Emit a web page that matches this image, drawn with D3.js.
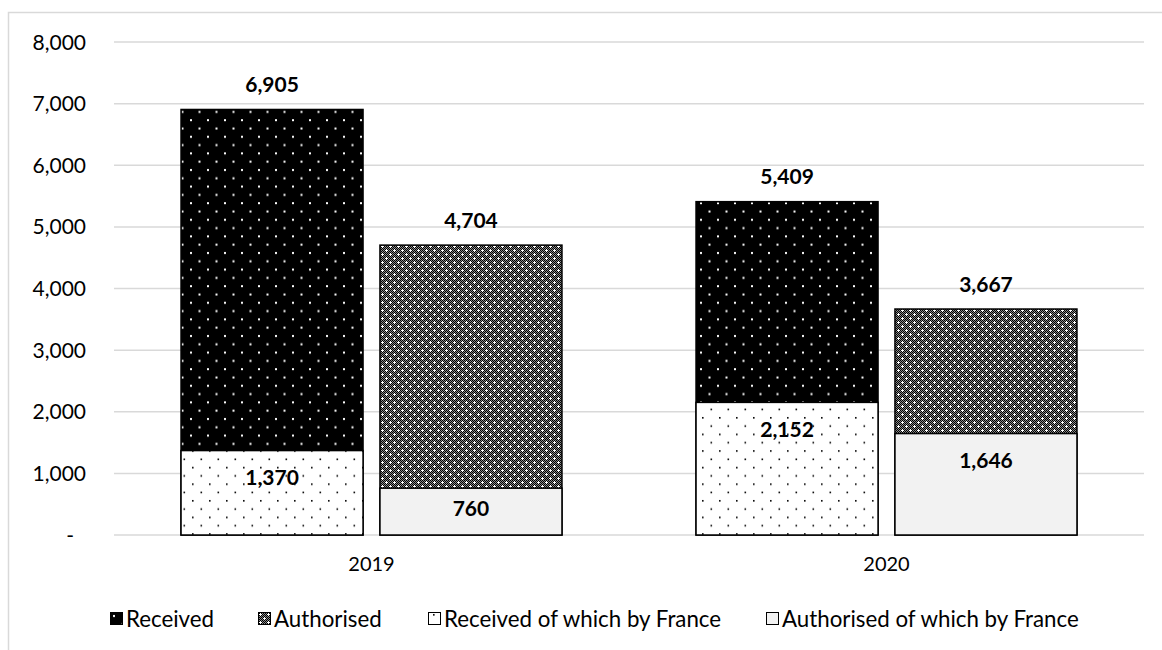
<!DOCTYPE html>
<html>
<head>
<meta charset="utf-8">
<script src="https://cdnjs.cloudflare.com/ajax/libs/d3/7.8.5/d3.min.js"></script>
<style>
  body { margin: 0; background: #fff; }
  text { font-family: Lato, "Open Sans", sans-serif; fill: #000; }
</style>
</head>
<body>
<script>
//chart data
var years = ["2019", "2020"];
var seriesKeys = ["Received", "Authorised"];
var received = [6905, 5409];
var authorised = [4704, 3667];
var receivedFrance = [1370, 2152];
var authorisedFrance = [760, 1646];
var yTicks = [0, 1000, 2000, 3000, 4000, 5000, 6000, 7000, 8000];
var legendLabels = ["Received", "Authorised", "Received of which by France", "Authorised of which by France"];

var width = 1162,
    height = 650;

var svg = d3.select("body")
    .append("svg")
    .attr("width", width)
    .attr("height", height);

var defs = svg.append("defs");

//black with white dots
var pReceived = defs.append("pattern")
    .attr("id", "pReceived")
    .attr("patternUnits", "userSpaceOnUse")
    .attr("width", 17).attr("height", 16.6);
pReceived.append("rect").attr("width", 17).attr("height", 16.6).attr("fill", "#000");
pReceived.append("rect").attr("x", 3).attr("y", 3).attr("width", 2).attr("height", 2).attr("fill", "#fff");
pReceived.append("rect").attr("x", 11.5).attr("y", 11.3).attr("width", 2).attr("height", 2).attr("fill", "#fff");

//white with black dots
var pRecFr = defs.append("pattern")
    .attr("id", "pRecFr")
    .attr("patternUnits", "userSpaceOnUse")
    .attr("width", 17).attr("height", 16.6);
pRecFr.append("rect").attr("width", 17).attr("height", 16.6).attr("fill", "#fff");
pRecFr.append("rect").attr("x", 5).attr("y", 2).attr("width", 1.6).attr("height", 1.6).attr("fill", "#000");
pRecFr.append("rect").attr("x", 13.5).attr("y", 10.3).attr("width", 1.6).attr("height", 1.6).attr("fill", "#000");

//dark checker with white crosses
var pAuth = defs.append("pattern")
    .attr("id", "pAuth")
    .attr("patternUnits", "userSpaceOnUse")
    .attr("width", 8).attr("height", 8);
pAuth.append("rect").attr("width", 8).attr("height", 8).attr("fill", "#8a8a8a");
var cells = [];
for (var i = 0; i < 8; i++) {
    for (var j = 0; j < 8; j++) {
        if ((i + j) % 2 == 0) cells.push([i, j]);
    };
};
pAuth.selectAll(".cell")
    .data(cells)
    .enter()
    .append("rect")
    .attr("x", function(d){ return d[0]; })
    .attr("y", function(d){ return d[1]; })
    .attr("width", 1).attr("height", 1)
    .attr("fill", "#000");
//white plus marks
[[2, 2], [6, 6]].forEach(function(c){
    pAuth.append("rect").attr("x", c[0] - 1).attr("y", c[1]).attr("width", 3).attr("height", 1).attr("fill", "#fff");
    pAuth.append("rect").attr("x", c[0]).attr("y", c[1] - 1).attr("width", 1).attr("height", 3).attr("fill", "#fff");
});

var fills = ["url(#pReceived)", "url(#pAuth)", "url(#pRecFr)", "#f2f2f2"];

//outer chart border
svg.append("rect")
    .attr("x", 8.5).attr("y", 12.5)
    .attr("width", 1170).attr("height", 660)
    .attr("fill", "none")
    .attr("stroke", "#d9d9d9")
    .attr("stroke-width", 1.5);

//scales
var x = d3.scaleBand()
    .domain(years)
    .range([114, 1144]);

var x1 = d3.scaleBand()
    .domain(seriesKeys)
    .range([0, x.bandwidth()])
    .paddingInner(0.085)
    .paddingOuter(0.337);

var y = d3.scaleLinear()
    .domain([0, 8000])
    .range([535, 42]);

var fmt = d3.format(",");

//gridlines
svg.selectAll(".grid")
    .data(yTicks)
    .enter()
    .append("line")
    .attr("class", "grid")
    .attr("x1", 114).attr("x2", 1144)
    .attr("y1", function(d){ return y(d); })
    .attr("y2", function(d){ return y(d); })
    .attr("stroke", "#d9d9d9")
    .attr("stroke-width", 1.5);

//y tick labels
svg.selectAll(".ytick")
    .data(yTicks)
    .enter()
    .append("text")
    .attr("class", "ytick")
    .attr("x", function(d){ return d == 0 ? 74 : 86; })
    .attr("y", function(d){ return y(d); })
    .attr("dy", "0.36em")
    .attr("text-anchor", "end")
    .style("font-size", "21px")
    .text(function(d){ return d == 0 ? "-" : fmt(d); });

//x labels
svg.selectAll(".xlabel")
    .data(years)
    .enter()
    .append("text")
    .attr("class", "xlabel")
    .attr("x", function(d){ return x(d) + x.bandwidth() / 2; })
    .attr("y", 564)
    .attr("dy", "0.36em")
    .attr("text-anchor", "middle")
    .style("font-size", "20px")
    .text(function(d){ return d; });

//build bar rows: totals first, then the France part drawn on top
var bars = [];
years.forEach(function(yr, i){
    bars.push({ year: yr, key: "Received", value: received[i], fill: fills[0], top: true });
    bars.push({ year: yr, key: "Authorised", value: authorised[i], fill: fills[1], top: true });
    bars.push({ year: yr, key: "Received", value: receivedFrance[i], fill: fills[2], top: false });
    bars.push({ year: yr, key: "Authorised", value: authorisedFrance[i], fill: fills[3], top: false });
});

svg.selectAll(".bar")
    .data(bars)
    .enter()
    .append("rect")
    .attr("class", "bar")
    .attr("x", function(d){ return x(d.year) + x1(d.key); })
    .attr("y", function(d){ return y(d.value); })
    .attr("width", x1.bandwidth())
    .attr("height", function(d){ return y(0) - y(d.value); })
    .attr("fill", function(d){ return d.fill; })
    .attr("stroke", "#000")
    .attr("stroke-width", 1.5);

//value labels
svg.selectAll(".vlabel")
    .data(bars)
    .enter()
    .append("text")
    .attr("class", "vlabel")
    .attr("x", function(d){ return x(d.year) + x1(d.key) + x1.bandwidth() / 2; })
    .attr("y", function(d){
        var top = y(d.value);
        if (d.top) return top - 25;
        return top + Math.min(27, (y(0) - top) / 2 - 3);
    })
    .attr("dy", "0.36em")
    .attr("text-anchor", "middle")
    .style("font-size", "21px")
    .style("font-weight", "bold")
    .text(function(d){ return fmt(d.value); });

//legend
var legendX = [110, 258, 428, 766];
var legend = svg.selectAll(".legend")
    .data(legendLabels)
    .enter()
    .append("g")
    .attr("class", "legend")
    .attr("transform", function(d, i){ return "translate(" + legendX[i] + ",612)"; });

legend.append("rect")
    .attr("x", 0.5).attr("y", 0.5)
    .attr("width", 12).attr("height", 12)
    .attr("fill", function(d, i){ return fills[i]; })
    .attr("stroke", "#000")
    .attr("stroke-width", 1);

legend.append("text")
    .attr("x", 16)
    .attr("y", 6.5)
    .attr("dy", "0.36em")
    .style("font-size", "22.3px")
    .text(function(d){ return d; });
</script>
</body>
</html>
